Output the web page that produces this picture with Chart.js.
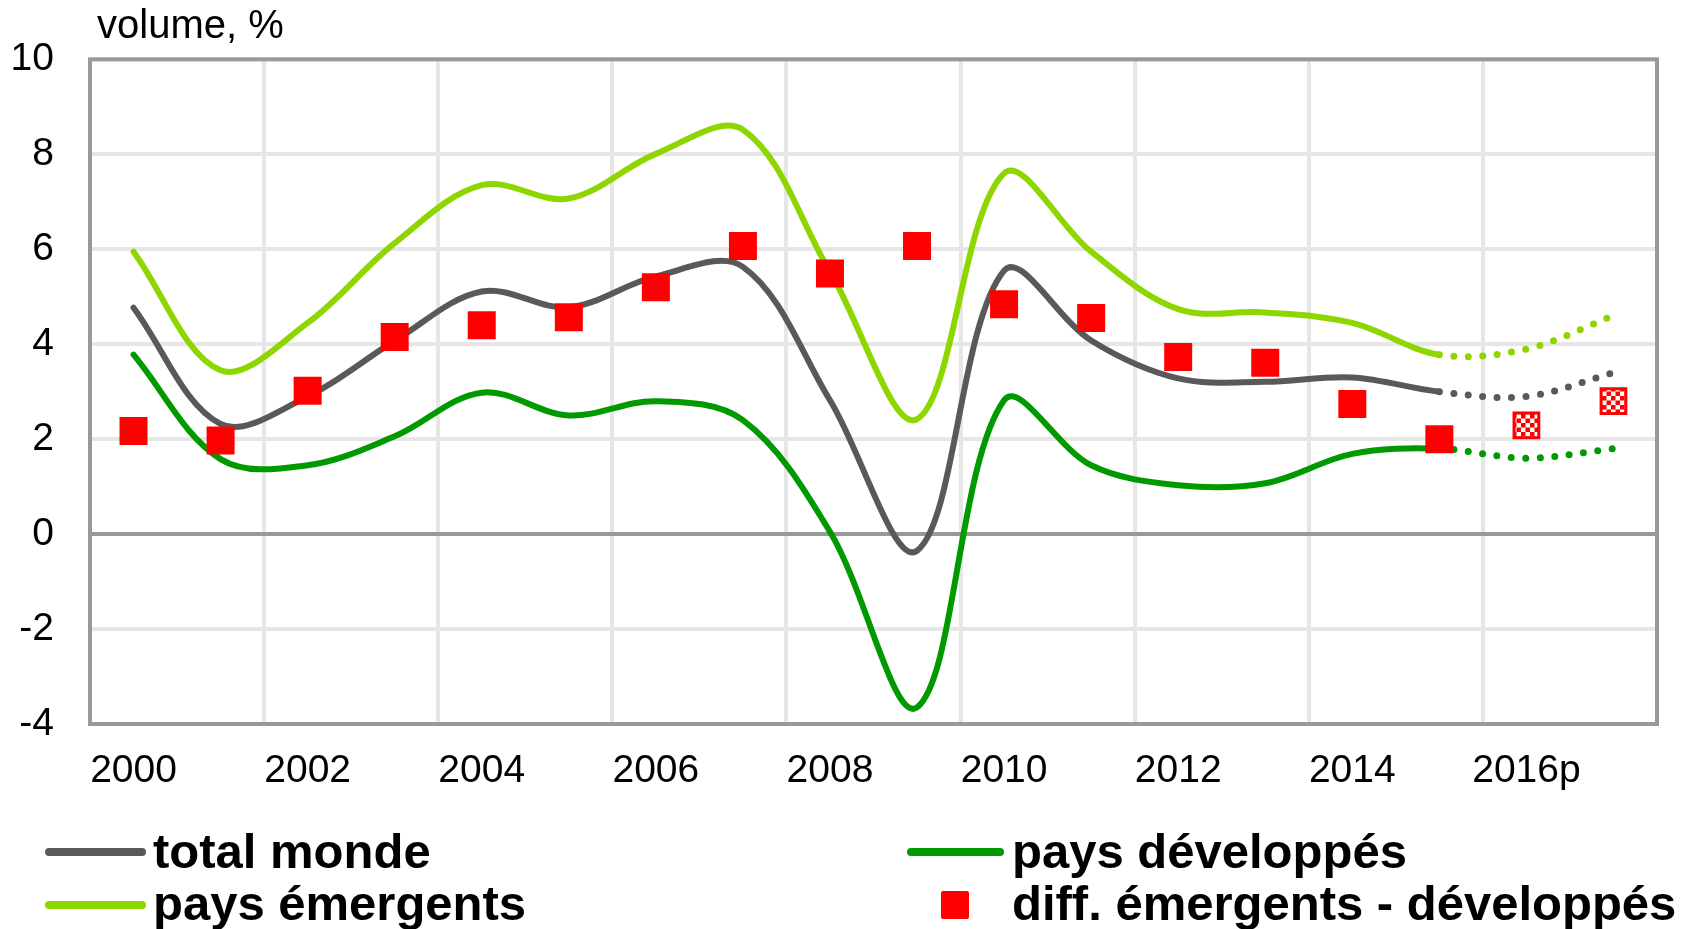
<!DOCTYPE html>
<html>
<head>
<meta charset="utf-8">
<script src="https://cdn.jsdelivr.net/npm/chart.js@4.4.1/dist/chart.umd.min.js"></script>
<style>
  body { margin: 0; background: #fff; }
  #wrap { position: relative; width: 1683px; height: 929px; overflow: hidden; font-family: "Liberation Sans", Arial, sans-serif; }
  #c { position: absolute; left: 0; top: 0; }
  .title { position: absolute; left: 97px; top: 4px; font-size: 40px; line-height: 40px; color: #000; white-space: nowrap; }
  .lg-text { position: absolute; font-size: 49px; line-height: 49px; font-weight: bold; color: #000; white-space: nowrap; }
  .lg-line { position: absolute; height: 8px; border-radius: 4px; }
  .lg-box { position: absolute; width: 28px; height: 28px; border-radius: 2px; background: #ff0000; }
</style>
</head>
<body>
<div id="wrap">
  <canvas id="c" width="1683" height="929"></canvas>
  <div class="title">volume, %</div>
</div>
<script>
const YEARS = ["2000", "2001", "2002", "2003", "2004", "2005", "2006", "2007", "2008",
    "2009", "2010", "2011", "2012", "2013", "2014", "2015", "2016p", "2017p"];
const TOTAL_MONDE = [4.77, 2.32, 2.9, 4.07, 5.11, 4.78, 5.43, 5.63, 2.82, -0.35,
    5.55, 4.08, 3.28, 3.21, 3.3, 3.0, 2.9, 3.4];
const EMERGENTS = [5.95, 3.45, 4.45, 6.13, 7.35, 7.07, 8.01, 8.52, 5.53, 2.42,
    7.6, 5.95, 4.74, 4.67, 4.45, 3.78, 3.9, 4.6];
const DEVELOPPES = [3.78, 1.58, 1.45, 2.06, 2.98, 2.5, 2.8, 2.4, 0.05, -3.65,
    2.82, 1.45, 1.03, 1.07, 1.69, 1.8, 1.6, 1.8];
const DIFF = [2.17, 1.97, 3.02, 4.15, 4.4, 4.57, 5.2, 6.07, 5.49, 6.07,
    4.84, 4.55, 3.73, 3.61, 2.74, 2.0, 2.29, 2.8];
const FORECAST_FROM = 15; // last observed year (2015), the rest is dotted

const COLORS = {
    monde: "#595959",
    emergents: "#8ed600",
    developpes: "#009a00",
    diff: "#ff0000",
};

const FONT = '"Liberation Sans", Arial, sans-serif';

function checkerPattern() {
    const c = document.createElement("canvas");
    c.width = 9;
    c.height = 9;
    const g = c.getContext("2d");
    g.fillStyle = "#ffffff";
    g.fillRect(0, 0, 9, 9);
    g.fillStyle = COLORS.diff;
    g.fillRect(0, 0, 4.5, 4.5);
    g.fillRect(4.5, 4.5, 4.5, 4.5);
    return g.createPattern(c, "repeat");
}

function lineDataset(label, data, color) {
    return {
        label,
        data,
        borderColor: color,
        borderWidth: 6,
        borderCapStyle: "round",
        pointRadius: 0,
        tension: 0.35,
        fill: false,
        segment: {
            borderDash: (ctx) => (ctx.p0DataIndex >= FORECAST_FROM ? [0, 14.5] : undefined),
            borderWidth: (ctx) => (ctx.p0DataIndex >= FORECAST_FROM ? 7 : undefined),
        },
    };
}

const frame = {
    id: "frame",
    beforeDatasetsDraw(chart) {
        const { ctx, chartArea: a } = chart;
        ctx.save();
        ctx.strokeStyle = "#999999";
        ctx.lineWidth = 4;
        ctx.strokeRect(a.left, a.top, a.right - a.left, a.bottom - a.top);
        ctx.restore();
    },
};

const pattern = checkerPattern();

new Chart(document.getElementById("c"), {
    type: "line",
    data: {
        labels: YEARS,
        datasets: [
            {
                label: "diff. émergents - développés",
                data: DIFF,
                showLine: false,
                pointStyle: "rect",
                pointRadius: (ctx) => (ctx.dataIndex > FORECAST_FROM ? 17.5 : 19.8),
                backgroundColor: (ctx) => (ctx.dataIndex > FORECAST_FROM ? pattern : COLORS.diff),
                borderColor: COLORS.diff,
                borderWidth: (ctx) => (ctx.dataIndex > FORECAST_FROM ? 3 : 0),
            },
            lineDataset("total monde", TOTAL_MONDE, COLORS.monde),
            lineDataset("pays émergents", EMERGENTS, COLORS.emergents),
            lineDataset("pays développés", DEVELOPPES, COLORS.developpes),
        ],
    },
    options: {
        responsive: false,
        animation: false,
        layout: { padding: { top: 53, right: 26, left: 0, bottom: 0 } },
        plugins: { legend: { display: false }, tooltip: { enabled: false } },
        scales: {
            x: {
                offset: true,
                border: { display: false },
                grid: {
                    offset: true,
                    drawTicks: false,
                    lineWidth: 4,
                    color: (ctx) => (ctx.index % 2 === 0 ? "#e6e6e6" : "rgba(0,0,0,0)"),
                },
                ticks: {
                    autoSkip: false,
                    maxRotation: 0,
                    padding: 24,
                    color: "#000",
                    font: { family: FONT, size: 39 },
                    callback: (value, index) => (index % 2 === 0 ? YEARS[index] : ""),
                },
                afterFit: (scale) => { scale.height = 205; },
            },
            y: {
                min: -4,
                max: 10,
                border: { display: false },
                grid: {
                    drawTicks: false,
                    lineWidth: 4,
                    color: (ctx) => (ctx.tick && ctx.tick.value === 0 ? "#999999" : "#e6e6e6"),
                },
                ticks: {
                    stepSize: 2,
                    padding: 36,
                    color: "#000",
                    font: { family: FONT, size: 39 },
                },
                afterFit: (scale) => { scale.width = 90; },
            },
        },
    },
    plugins: [frame],
});

// legend, laid out in two columns like the source
const LEGEND = [
    { text: "total monde", color: COLORS.monde, kind: "line", x: 45, w: 101, textX: 153, y: 852, base: 868 },
    { text: "pays émergents", color: COLORS.emergents, kind: "line", x: 45, w: 101, textX: 153, y: 905, base: 920 },
    { text: "pays développés", color: COLORS.developpes, kind: "line", x: 907, w: 97, textX: 1012, y: 852, base: 868 },
    { text: "diff. émergents - développés", color: COLORS.diff, kind: "box", x: 941, textX: 1012, y: 905, base: 920 },
];

const wrap = document.getElementById("wrap");
LEGEND.forEach((item) => {
    const mark = document.createElement("div");
    if (item.kind === "line") {
        mark.className = "lg-line";
        mark.style.left = item.x + "px";
        mark.style.width = item.w + "px";
        mark.style.top = (item.y - 4) + "px";
        mark.style.background = item.color;
    } else {
        mark.className = "lg-box";
        mark.style.left = item.x + "px";
        mark.style.top = (item.y - 14) + "px";
    }
    wrap.appendChild(mark);
    const label = document.createElement("div");
    label.className = "lg-text";
    label.textContent = item.text;
    label.style.left = item.textX + "px";
    label.style.top = (item.base - 41.5) + "px";
    wrap.appendChild(label);
});
</script>
</body>
</html>
